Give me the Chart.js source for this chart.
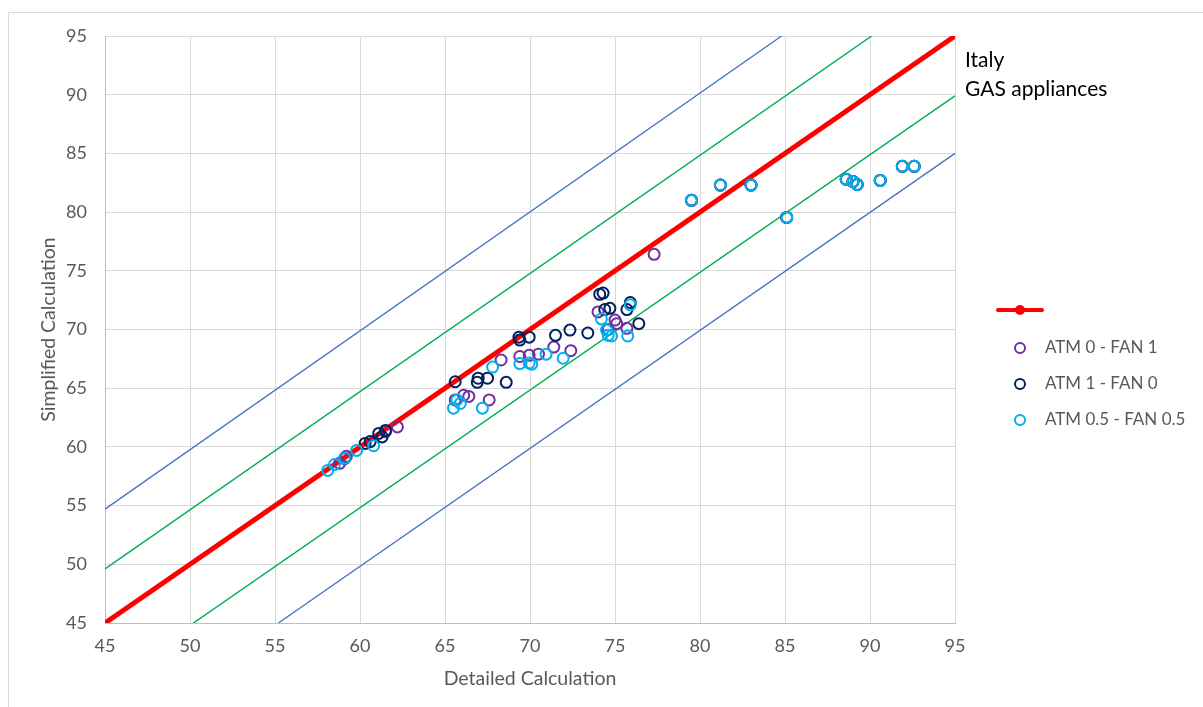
<!DOCTYPE html>
<html><head><meta charset="utf-8">
<script src="https://cdn.jsdelivr.net/npm/chart.js@4.4.0/dist/chart.umd.min.js"></script>
<style>html,body{margin:0;padding:0;background:#fff;overflow:hidden}</style>
</head><body>
<canvas id="c" width="1203" height="707"></canvas>
<script>
// Axis ticks
const axisMin = 45, axisMax = 95, axisStep = 5;

// Series: ATM 0 - FAN 1
const atm0fan1X = [58.8, 59.1, 59.2, 61.5, 62.2, 65.6, 66.1, 66.4, 67.6, 68.3, 69.4, 69.95, 70.5, 71.4, 72.4, 74.0, 74.6, 75.0, 75.1, 75.7, 77.3, 79.5, 81.2, 83.0, 85.1, 88.6, 89.0, 89.25, 90.6, 91.9, 92.6];
const atm0fan1Y = [58.6, 59.0, 59.2, 61.3, 61.7, 64.0, 64.4, 64.3, 64.0, 67.4, 67.7, 67.8, 67.9, 68.5, 68.2, 71.5, 70.0, 70.8, 70.5, 70.1, 76.4, 81.0, 82.3, 82.3, 79.55, 82.8, 82.6, 82.35, 82.7, 83.9, 83.9];

// Series: ATM 1 - FAN 0
const atm1fan0X = [60.3, 60.6, 61.1, 61.3, 61.5, 65.6, 66.9, 66.95, 67.5, 68.6, 69.35, 69.4, 69.95, 71.5, 72.35, 73.4, 74.1, 74.3, 74.4, 74.7, 75.7, 75.9, 76.4, 79.5, 81.2, 83.0, 85.1, 88.6, 89.0, 89.25, 90.6, 91.9, 92.6];
const atm1fan0Y = [60.3, 60.45, 61.15, 60.85, 61.4, 65.55, 65.5, 65.85, 65.85, 65.5, 69.35, 69.1, 69.35, 69.5, 69.95, 69.7, 73.0, 73.1, 71.7, 71.8, 71.7, 72.3, 70.5, 81.0, 82.3, 82.3, 79.55, 82.8, 82.6, 82.35, 82.7, 83.9, 83.9];

// Series: ATM 0.5 - FAN 0.5
const atm05fan05X = [58.1, 58.5, 59.1, 59.8, 60.8, 65.5, 65.7, 65.9, 67.2, 67.8, 69.4, 69.95, 70.1, 70.95, 71.95, 74.2, 74.5, 74.6, 74.8, 75.75, 75.9, 79.5, 81.2, 83.0, 85.1, 88.6, 89.0, 89.25, 90.6, 91.9, 92.6];
const atm05fan05Y = [58.0, 58.5, 59.05, 59.7, 60.1, 63.3, 64.0, 63.7, 63.3, 66.8, 67.1, 67.15, 67.05, 67.9, 67.55, 70.9, 69.95, 69.5, 69.45, 69.45, 72.1, 81.0, 82.3, 82.3, 79.55, 82.8, 82.6, 82.35, 82.7, 83.9, 83.9];

// Reference lines (endpoints)
const identityX = [45, 95], identityY = [45, 95];
const upperGreenX = [45, 90.1], upperGreenY = [49.6, 95];
const lowerGreenX = [50.2, 95], lowerGreenY = [45, 89.9];
const upperBlueX = [45, 84.8], upperBlueY = [54.7, 95];
const lowerBlueX = [55.2, 95], lowerBlueY = [45, 85];

// Labels
const seriesNames = ['ATM 0 - FAN 1', 'ATM 1 - FAN 0', 'ATM 0.5 - FAN 0.5'];
const annotationLines = ['Italy', 'GAS appliances'];
const xTitle = 'Detailed Calculation';
const yTitle = 'Simplified Calculation';

const pts = (xs, ys) => xs.map((x, i) => ({x, y: ys[i]}));
const FONT = 'Lato, "Liberation Sans", sans-serif';
const GREY = '#595959';

function lineDs(xs, ys, color, width, order, label) {
  return {label: label || '', data: pts(xs, ys), showLine: true, borderColor: color, backgroundColor: color,
    borderWidth: width, pointRadius: 0, order};
}
function ptDs(label, xs, ys, color, order) {
  return {label, data: pts(xs, ys), showLine: false, borderColor: color, backgroundColor: 'rgba(0,0,0,0)',
    borderWidth: 2, pointRadius: 5.5, pointStyle: 'circle', order};
}

const datasets = [
  lineDs(identityX, identityY, '#FF0000', 5, 4, ''),
  ptDs(seriesNames[0], atm0fan1X, atm0fan1Y, '#7030A0', 3),
  ptDs(seriesNames[1], atm1fan0X, atm1fan0Y, '#002060', 2),
  ptDs(seriesNames[2], atm05fan05X, atm05fan05Y, '#00B0F0', 1),
  lineDs(upperGreenX, upperGreenY, '#00B050', 1.5, 5),
  lineDs(lowerGreenX, lowerGreenY, '#00B050', 1.5, 5),
  lineDs(upperBlueX, upperBlueY, '#4472C4', 1.3, 5),
  lineDs(lowerBlueX, lowerBlueY, '#4472C4', 1.3, 5)
];

const decor = {
  id: 'decor',
  beforeDraw(chart) {
    const ctx = chart.ctx;
    ctx.save();
    ctx.fillStyle = '#fff';
    ctx.fillRect(0, 0, chart.width, chart.height);
    ctx.strokeStyle = '#D9D9D9';
    ctx.lineWidth = 1;
    ctx.strokeRect(8.5, 12.5, chart.width + 10, chart.height + 10);
    ctx.restore();
  },
  afterDraw(chart) {
    const ctx = chart.ctx;
    ctx.save();
    // annotation text
    ctx.fillStyle = '#000';
    ctx.font = '21px ' + FONT;
    ctx.textBaseline = 'middle';
    ctx.textAlign = 'left';
    annotationLines.forEach((t, i) => ctx.fillText(t, 965, 60 + i * 29));
    // legend
    const lx = 1020, rows = [310, 348, 384, 420];
    const ds = chart.data.datasets;
    ctx.strokeStyle = ds[0].borderColor; ctx.lineWidth = 4; ctx.lineCap = 'round';
    ctx.beginPath(); ctx.moveTo(998, rows[0]); ctx.lineTo(1042, rows[0]); ctx.stroke();
    ctx.fillStyle = ds[0].borderColor;
    ctx.beginPath(); ctx.arc(lx, rows[0], 5, 0, Math.PI * 2); ctx.fill();
    ctx.font = '17px ' + FONT;
    for (let i = 1; i <= 3; i++) {
      ctx.strokeStyle = ds[i].borderColor; ctx.lineWidth = 2;
      ctx.beginPath(); ctx.arc(lx, rows[i], 5, 0, Math.PI * 2); ctx.stroke();
      ctx.fillStyle = GREY;
      ctx.fillText(ds[i].label, 1045, rows[i]);
    }
    ctx.restore();
  }
};

new Chart(document.getElementById('c'), {
  type: 'scatter',
  data: {datasets},
  options: {
    responsive: false,
    animation: false,
    layout: {padding: {left: 33, top: 36, right: 248, bottom: 13}},
    plugins: {legend: {display: false}, tooltip: {enabled: false}},
    scales: {
      x: {
        type: 'linear', min: axisMin, max: axisMax,
        ticks: {stepSize: axisStep, color: GREY, font: {family: FONT, size: 18}, padding: 12},
        grid: {color: '#D9D9D9', drawTicks: false},
        border: {color: '#BFBFBF'},
        title: {display: true, text: xTitle, color: GREY, font: {family: FONT, size: 19.5}},
        afterFit(s) { s.height = 71; }
      },
      y: {
        type: 'linear', min: axisMin, max: axisMax,
        ticks: {stepSize: axisStep, color: GREY, font: {family: FONT, size: 18}, padding: 18},
        grid: {color: '#D9D9D9', drawTicks: false},
        border: {color: '#BFBFBF'},
        title: {display: true, text: yTitle, color: GREY, font: {family: FONT, size: 19.5}},
        afterFit(s) { s.width = 72; }
      }
    }
  },
  plugins: [decor]
});
</script>
</body></html>
